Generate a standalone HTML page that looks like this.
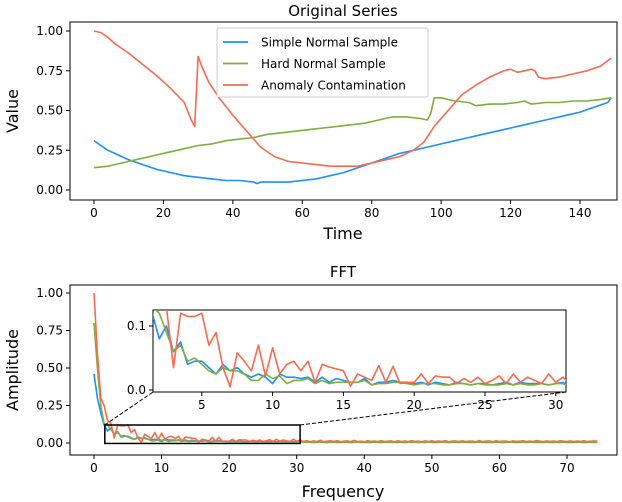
<!DOCTYPE html>
<html><head><meta charset="utf-8"><style>
body{margin:0;background:#fff}
svg{display:block;font-family:"DejaVu Sans","Liberation Sans",sans-serif}
</style></head><body>
<svg id="c" width="622" height="502" viewBox="0 0 622 502"></svg>
<script>
const tSimpleX=[0,2,4,6,8,10,14,18,22,26,30,34,38,42,46,47,48,52,56,60,64,68,72,76,80,84,88,92,96,100,104,108,112,116,120,124,128,132,136,140,144,148,149];
const tSimpleY=[0.31,0.28,0.25,0.23,0.21,0.19,0.16,0.13,0.11,0.09,0.08,0.07,0.06,0.06,0.05,0.04,0.05,0.05,0.05,0.06,0.07,0.09,0.11,0.14,0.17,0.20,0.23,0.25,0.27,0.29,0.31,0.33,0.35,0.37,0.39,0.41,0.43,0.45,0.47,0.49,0.52,0.55,0.58];
const tHardX=[0,4,6,10,14,18,22,26,30,34,38,42,46,50,54,58,62,66,70,74,78,82,86,90,94,96,97,98,100,104,108,110,114,118,122,124,126,130,134,138,142,146,149];
const tHardY=[0.14,0.15,0.16,0.18,0.20,0.22,0.24,0.26,0.28,0.29,0.31,0.32,0.33,0.35,0.36,0.37,0.38,0.39,0.40,0.41,0.42,0.44,0.46,0.46,0.45,0.44,0.48,0.58,0.58,0.56,0.55,0.53,0.54,0.54,0.55,0.56,0.54,0.55,0.55,0.56,0.56,0.57,0.58];
const tAnomX=[0,2,4,6,8,10,14,18,22,26,28,29,30,31,33,36,40,44,48,52,56,60,64,68,72,76,80,84,88,92,95,98,102,106,110,114,118,120,122,124,126,127,128,130,134,138,142,146,149];
const tAnomY=[1.0,0.99,0.96,0.92,0.89,0.86,0.79,0.72,0.64,0.55,0.44,0.40,0.84,0.78,0.68,0.58,0.47,0.37,0.27,0.21,0.18,0.17,0.16,0.15,0.15,0.15,0.17,0.19,0.21,0.25,0.30,0.40,0.50,0.60,0.66,0.71,0.75,0.76,0.74,0.75,0.76,0.75,0.71,0.70,0.71,0.73,0.75,0.78,0.83];
const fSimple=[0.46,0.30,0.20,0.12,0.08,0.10,0.06,0.075,0.04,0.045,0.045,0.035,0.025,0.04,0.03,0.035,0.025,0.02,0.025,0.02,0.01,0.025,0.02,0.02,0.018,0.02,0.012,0.02,0.012,0.018,0.015,0.012,0.012,0.018,0.008,0.012,0.012,0.015,0.012,0.012,0.01,0.012,0.008,0.012,0.01,0.008,0.012,0.01,0.008,0.01,0.01,0.008,0.01,0.012,0.008,0.012,0.01,0.01,0.01,0.008,0.01,0.012,
0.006,0.005,0.006,0.004,0.005,0.006,0.005,0.004,0.006,0.005,0.005,0.004,0.006,0.005,0.004,0.005,0.006,0.004,0.005,0.005,0.004,0.006,0.005,0.004,0.005,0.005,0.006,0.004,0.005,0.005,0.004,0.005,0.006,0.004,0.005,0.005,0.004,0.006,0.005,0.004,0.005,0.005,0.006,0.004,0.005,0.005,0.004,0.006,0.005,0.004,0.005,0.005,0.006,0.004,0.005,0.005,0.004,0.006,0.005,0.004,0.005,0.005,0.006,0.004,0.005,0.005,0.004,0.006,0.005,0.004,0.005,0.005,0.006,0.004,0.005,0.005,0.004,0.006,0.005,0.004,0.005,0.005,0.006,0.004,0.005,0.005,0.004,0.006,
0.005,0.004,0.006,0.005,0.005,0.004,0.006,0.005,0.004,0.005];
const fHard=[0.80,0.50,0.25,0.13,0.12,0.09,0.06,0.07,0.045,0.05,0.04,0.03,0.025,0.035,0.03,0.03,0.025,0.015,0.015,0.025,0.018,0.022,0.01,0.015,0.015,0.018,0.01,0.015,0.01,0.012,0.012,0.012,0.012,0.015,0.008,0.01,0.01,0.012,0.012,0.01,0.008,0.01,0.01,0.01,0.008,0.008,0.01,0.01,0.008,0.01,0.008,0.008,0.008,0.01,0.008,0.01,0.008,0.008,0.01,0.008,0.01,0.01,
0.005,0.006,0.004,0.005,0.005,0.006,0.004,0.005,0.005,0.006,0.004,0.005,0.005,0.006,0.004,0.005,0.005,0.006,0.004,0.005,0.005,0.006,0.004,0.005,0.005,0.006,0.004,0.005,0.005,0.006,0.004,0.005,0.005,0.006,0.004,0.005,0.005,0.006,0.004,0.005,0.005,0.006,0.004,0.005,0.005,0.006,0.004,0.005,0.005,0.006,0.004,0.005,0.005,0.006,0.004,0.005,0.005,0.006,0.004,0.005,0.005,0.006,0.004,0.005,0.005,0.006,0.004,0.005,0.005,0.006,0.004,0.005,0.005,0.006,0.004,0.005,0.005,0.006,0.004,0.005,0.005,0.006,0.004,0.005,0.005,0.006,0.004,0.005,
0.005,0.006,0.004,0.005,0.005,0.006,0.004,0.005,0.005,0.006];
const fAnom=[1.0,0.60,0.30,0.25,0.15,0.13,0.035,0.12,0.115,0.115,0.12,0.07,0.09,0.035,0.005,0.058,0.045,0.03,0.07,0.022,0.066,0.025,0.04,0.045,0.03,0.045,0.012,0.04,0.036,0.033,0.03,0.006,0.025,0.02,0.015,0.038,0.012,0.037,0.01,0.012,0.012,0.025,0.01,0.022,0.02,0.02,0.01,0.018,0.012,0.02,0.01,0.015,0.022,0.01,0.025,0.012,0.02,0.015,0.01,0.025,0.012,0.02,
0.01,0.016,0.008,0.014,0.01,0.018,0.008,0.012,0.015,0.01,0.016,0.008,0.012,0.014,0.009,0.017,0.01,0.012,0.008,0.015,0.011,0.013,0.009,0.016,0.01,0.012,0.014,0.008,0.015,0.01,0.013,0.009,0.016,0.011,0.012,0.008,0.014,0.01,0.015,0.009,0.013,0.011,0.016,0.008,0.012,0.014,0.01,0.015,0.009,0.012,0.013,0.008,0.016,0.01,0.012,0.014,0.009,0.015,0.01,0.012,0.013,0.008,0.014,0.011,0.012,0.015,0.009,0.013,0.01,0.016,0.012,0.009,0.014,0.011,0.013,0.01,0.015,0.012,
0.01,0.014,0.009,0.013,0.011,0.015,0.009,0.012,0.014,0.012];
const topXTicks=[0,20,40,60,80,100,120,140];
const topYTicks=[0,0.25,0.5,0.75,1.0];
const fftXTicks=[0,10,20,30,40,50,60,70];
const fftYTicks=[0,0.25,0.5,0.75,1.0];
const insetXTicks=[5,10,15,20,25,30];
const insetYTicks=[0,0.1];
const seriesNames=["Simple Normal Sample","Hard Normal Sample","Anomaly Contamination"];
const colors=["#1f8fff","#7fae3e","#fa6a50"];

const svg=document.getElementById('c');const NS="http://www.w3.org/2000/svg";
function el(t,a,p){const e=document.createElementNS(NS,t);for(const k in a)e.setAttribute(k,a[k]);(p||svg).appendChild(e);return e;}
function txt(s,a,p){const e=el('text',a,p);e.textContent=s;return e;}
const fmt2=v=>v.toFixed(2);
const tx=v=>94+v*(486/140), ty=v=>190-v*159;
const fx=v=>94+v*(473/70), fy=v=>443-v*150;
const ix=v=>131+v*14.16, iy=v=>390-v*640;
function axes(name,x0,y0,x1,y1,xt,yt,X,Y,yf,xf){
  const g=el('g',{});
  el('rect',{x:x0,y:y0,width:x1-x0,height:y1-y0,fill:'none',stroke:'#000','stroke-width':1},g);
  xt.forEach(v=>{const x=X(v);el('line',{x1:x,x2:x,y1:y1,y2:y1+4,stroke:'#000'},g);
    const t=txt(xf?xf(v):String(v),{x:x,y:y1+17,'text-anchor':'middle','font-size':12},g);});
  yt.forEach(v=>{const y=Y(v);el('line',{x1:x0-4,x2:x0,y1:y,y2:y,stroke:'#000'},g);
    const t=txt(yf(v),{x:x0-7,y:y+4,'text-anchor':'end','font-size':12},g);});
  return g;
}
function line(xs,ys,X,Y,c,name,p,clip){
  const d=ys.map((y,i)=>(i?'L':'M')+X(xs[i]).toFixed(1)+','+Y(y).toFixed(1)).join('');
  const a={d:d,fill:'none',stroke:c,'stroke-width':1.6,'stroke-linejoin':'round'};if(clip)a['clip-path']=clip;
  const e=el('path',a,p);return e;
}
axes('top-axes',70,22,617,200,topXTicks,topYTicks,tx,ty,fmt2);
line(tSimpleX,tSimpleY,tx,ty,colors[0],'simple-normal-line');
line(tHardX,tHardY,tx,ty,colors[1],'hard-normal-line');
line(tAnomX,tAnomY,tx,ty,colors[2],'anomaly-line');
let t=txt('Original Series',{x:343,y:16,'text-anchor':'middle','font-size':15});
t=txt('Time',{x:343,y:239,'text-anchor':'middle','font-size':16});
t=txt('Value',{x:0,y:0,'text-anchor':'middle','font-size':16,transform:'translate(18,111) rotate(-90)'});
const lg=el('g',{});
el('rect',{x:217,y:28,width:211,height:69,fill:'#fff',stroke:'#ccc',rx:2},lg);
seriesNames.forEach((n,i)=>{const y=42+i*21.5;
  const e=el('g',{},lg);
  el('line',{x1:223,x2:248,y1:y,y2:y,stroke:colors[i],'stroke-width':1.8},e);
  txt(n,{x:261,y:y+4.5,'font-size':12},e);});
const fxs=fAnom.map((_,i)=>i*0.5);
axes('fft-axes',70,285,617,455,fftXTicks,fftYTicks,fx,fy,fmt2);
line(fxs,fSimple,fx,fy,colors[0],'fft-simple-line');
line(fxs,fHard,fx,fy,colors[1],'fft-hard-line');
line(fxs,fAnom,fx,fy,colors[2],'fft-anomaly-line');
t=txt('FFT',{x:343,y:277,'text-anchor':'middle','font-size':15});
t=txt('Frequency',{x:343,y:497,'text-anchor':'middle','font-size':16});
t=txt('Amplitude',{x:0,y:0,'text-anchor':'middle','font-size':16,transform:'translate(18,370) rotate(-90)'});
const r=el('rect',{x:fx(1.6),y:fy(0.12),width:fx(30.5)-fx(1.6),height:fy(-0.003)-fy(0.12),fill:'none',stroke:'#000','stroke-width':1.5});

el('line',{x1:fx(1.6),y1:fy(0.12),x2:153,y2:392,stroke:'#000','stroke-dasharray':'4,2'});
el('line',{x1:fx(30.5),y1:fy(0.12),x2:566,y2:392,stroke:'#000','stroke-dasharray':'4,2'});
el('rect',{x:153,y:310,width:413,height:82,fill:'#fff'});
el('clipPath',{id:'ic'});document.getElementById('ic').appendChild(document.createElementNS(NS,'rect'));
const cr=document.getElementById('ic').firstChild;cr.setAttribute('x',153);cr.setAttribute('y',310);cr.setAttribute('width',413);cr.setAttribute('height',82);
const ig=axes('inset-axes',153,310,566,392,insetXTicks,insetYTicks,ix,iy,v=>v.toFixed(1));
line(fxs,fSimple,ix,iy,colors[0],'inset-simple-line',ig,'url(#ic)');
line(fxs,fHard,ix,iy,colors[1],'inset-hard-line',ig,'url(#ic)');
line(fxs,fAnom,ix,iy,colors[2],'inset-anomaly-line',ig,'url(#ic)');
</script>
</body></html>
